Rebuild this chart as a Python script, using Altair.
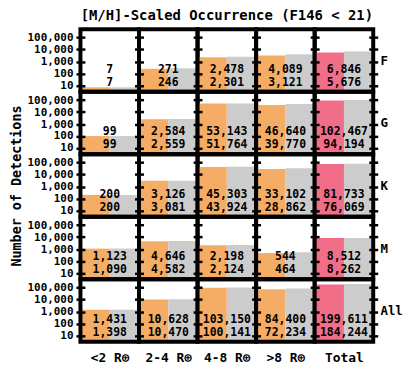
import altair as alt
import pandas as pd

# ---- data ----
stars = ["F", "G", "K", "M", "All"]
bins = ["<2 R⊕", "2-4 R⊕", "4-8 R⊕", ">8 R⊕", "Total"]

# upper number in each panel (also the grey bar)
upper_F = [7, 271, 2478, 4089, 6846]
upper_G = [99, 2584, 53143, 46640, 102467]
upper_K = [200, 3126, 45303, 33102, 81733]
upper_M = [1123, 4646, 2198, 544, 8512]
upper_All = [1431, 10628, 103150, 84400, 199611]

# lower number in each panel (also the coloured bar)
lower_F = [7, 246, 2301, 3121, 5676]
lower_G = [99, 2559, 51764, 39770, 94194]
lower_K = [200, 3081, 43924, 28862, 76069]
lower_M = [1090, 4582, 2124, 464, 8262]
lower_All = [1398, 10470, 100141, 72234, 184244]

upper = [upper_F, upper_G, upper_K, upper_M, upper_All]
lower = [lower_F, lower_G, lower_K, lower_M, lower_All]

tick_values = [10, 100, 1000, 10000, 100000]
y_domain = [3, 5e5]

ORANGE = "#F5AC64"
PINK = "#F06E87"
GREY = "#CCCCCC"
FONT = "DejaVu Sans Mono"
W, H = 59, 63

yscale = alt.Scale(type="log", domain=y_domain)
xscale = alt.Scale(paddingInner=0, paddingOuter=0)


def panel(i, j):
    col = PINK if j == 4 else ORANGE
    bar_df = pd.DataFrame({
        "series": ["a", "b"],
        "count": [lower[i][j], upper[i][j]],
        "color": [col, GREY],
    })
    txt_df = pd.DataFrame({"upper": [upper[i][j]], "lower": [lower[i][j]]})

    left_axis = alt.Axis(
        values=tick_values, format=",", labels=(j == 0),
        labelFont=FONT, labelFontSize=11, labelFontWeight="bold", labelColor="black",
        labelPadding=3, tickSize=9, tickWidth=2.5, tickColor="black",
        domain=False, grid=False, offset=-4.5, zindex=2,
        title="Number of Detections" if (i == 2 and j == 0) else None,
        titleFont=FONT, titleFontSize=13.5, titleFontWeight="bold", titleColor="black",
        titlePadding=4,
    )
    if i == 4:
        xaxis = alt.Axis(labels=False, ticks=False, domain=False, title=bins[j],
                         titleFont=FONT, titleFontSize=13, titleFontWeight="bold",
                         titleColor="black", titlePadding=10)
    else:
        xaxis = None

    xenc = alt.X("series:N", scale=xscale, axis=xaxis)
    bars = alt.Chart(bar_df).mark_bar().encode(
        x=xenc,
        y=alt.Y("count:Q", scale=yscale, axis=left_axis),
        y2=alt.datum(y_domain[0]),
        color=alt.Color("color:N", scale=None),
    )
    frame = alt.Chart(txt_df).mark_rect(filled=False, stroke="black", strokeWidth=4).encode(
        x=alt.value(0), x2=alt.value(W), y=alt.value(0), y2=alt.value(H)
    )
    t1 = alt.Chart(txt_df).mark_text(font=FONT, fontSize=11.5, fontWeight="bold", color="black").encode(
        x=alt.value(W / 2), y=alt.value(41), text=alt.Text("upper:Q", format=",")
    )
    t2 = alt.Chart(txt_df).mark_text(font=FONT, fontSize=11.5, fontWeight="bold", color="black").encode(
        x=alt.value(W / 2), y=alt.value(54), text=alt.Text("lower:Q", format=",")
    )
    layers = [bars, frame, t1, t2]
    if j == 4:
        right_axis = alt.Axis(
            values=tick_values, labels=False, orient="right",
            tickSize=9, tickWidth=2.5, tickColor="black",
            domain=False, grid=False, offset=-4.5, zindex=2,
            title=stars[i], titleAngle=0, titleAlign="left", titleBaseline="middle",
            titleFont=FONT, titleFontSize=12.5, titleFontWeight="bold", titleColor="black",
            titlePadding=1,
        )
        ghost = alt.Chart(bar_df).mark_bar(opacity=0).encode(
            x=xenc,
            y=alt.Y("count:Q", scale=yscale, axis=right_axis),
            y2=alt.datum(y_domain[0]),
        )
        layers.append(ghost)
    ch = alt.layer(*layers).properties(width=W, height=H)
    if j == 4:
        ch = ch.resolve_axis(y="independent")
    if i == 0 and j == 2:
        ch = ch.properties(title=alt.TitleParams(
            "[M/H]-Scaled Occurrence (F146 < 21)", font=FONT, fontSize=14,
            fontWeight="bold", color="black", anchor="middle", offset=4))
    return ch


panels = [panel(i, j) for i in range(5) for j in range(5)]
chart = alt.concat(*panels, columns=5, spacing=0, bounds="flush").configure_view(
    stroke=None
).properties(padding={"left": 1, "top": 0, "right": 0, "bottom": 0})

chart.save("out.html", embed_options={"renderer": "svg", "actions": False})
